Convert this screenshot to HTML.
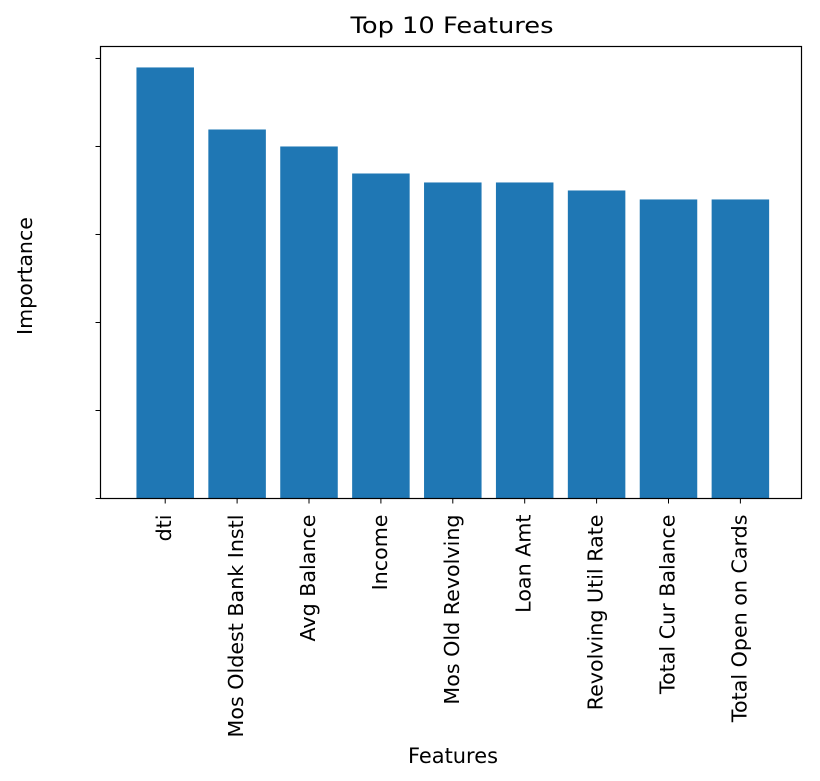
<!DOCTYPE html>
<html><head><meta charset="utf-8"><style>
body{margin:0;background:#fff;}
svg{display:block;font-family:"DejaVu Sans","Liberation Sans",sans-serif;}
</style></head><body>
<svg id="chart" width="820" height="781" viewBox="0 0 820 781">
<text id="title" x="452" y="33" font-size="22" text-anchor="middle" textLength="203" lengthAdjust="spacingAndGlyphs">Top 10 Features</text>
<text id="ytitle" transform="translate(32,276) rotate(-90)" font-size="16" text-anchor="middle">Importance</text>
<text id="xtitle" x="453" y="763" font-size="16" text-anchor="middle">Features</text>
<g id="bars"></g><g id="ticks"></g><g id="labels"></g>
<rect x="100.5" y="46.5" width="701" height="452" fill="none" stroke="#000" stroke-width="1.2"/>
</svg>
<script>
const categories = ["dti","Mos Oldest Bank Instl","Avg Balance","Income","Mos Old Revolving","Loan Amt","Revolving Util Rate","Total Cur Balance","Total Open on Cards"];
const values = [4.898,4.193,4.0,3.693,3.591,3.591,3.5,3.398,3.398];
const yTicks = [0,1,2,3,4,5];
const NS="http://www.w3.org/2000/svg";
const plotL=100.5,plotR=801.5,plotT=46.5,plotB=498.5;
const yMax=5.136;
const y=v=>plotB-(v/yMax)*(plotB-plotT);
const step=(plotR-plotL)/(categories.length+0.75);
const x=i=>plotL+step*(i+0.9);
const bw=step*0.8;
function fit(el,target){const L=el.getComputedTextLength();const fs=parseFloat(el.getAttribute('font-size'));el.setAttribute('font-size',fs*target/L);}
const bars=document.getElementById('bars'),ticks=document.getElementById('ticks'),labels=document.getElementById('labels');
const labelEls=[];
values.forEach((v,i)=>{
 const r=document.createElementNS(NS,'rect');
 
 
 r.setAttribute('x',x(i)-bw/2);r.setAttribute('width',bw);
 r.setAttribute('y',y(v));r.setAttribute('height',plotB-y(v));
 r.setAttribute('fill','#1f77b4');bars.appendChild(r);
 const t=document.createElementNS(NS,'line');
 
 
 t.setAttribute('x1',x(i));t.setAttribute('x2',x(i));t.setAttribute('y1',plotB);t.setAttribute('y2',plotB+5);
 t.setAttribute('stroke','#000');ticks.appendChild(t);
 const l=document.createElementNS(NS,'text');
 
 
 l.setAttribute('transform','translate('+(x(i)+6)+','+(plotB+16)+') rotate(-90)');
 l.setAttribute('text-anchor','end');l.setAttribute('font-size','16');
 l.textContent=categories[i];labels.appendChild(l);labelEls.push(l);
});
const L1=labelEls[1].getComputedTextLength();
labelEls.forEach(l=>l.setAttribute('font-size',16*223/L1));
fit(document.getElementById('ytitle'),118);
fit(document.getElementById('xtitle'),90);
yTicks.forEach(v=>{
 const t=document.createElementNS(NS,'line');
 
 
 t.setAttribute('x1',plotL-5);t.setAttribute('x2',plotL);t.setAttribute('y1',y(v));t.setAttribute('y2',y(v));
 t.setAttribute('stroke','#000');ticks.appendChild(t);
});
</script>
</body></html>
